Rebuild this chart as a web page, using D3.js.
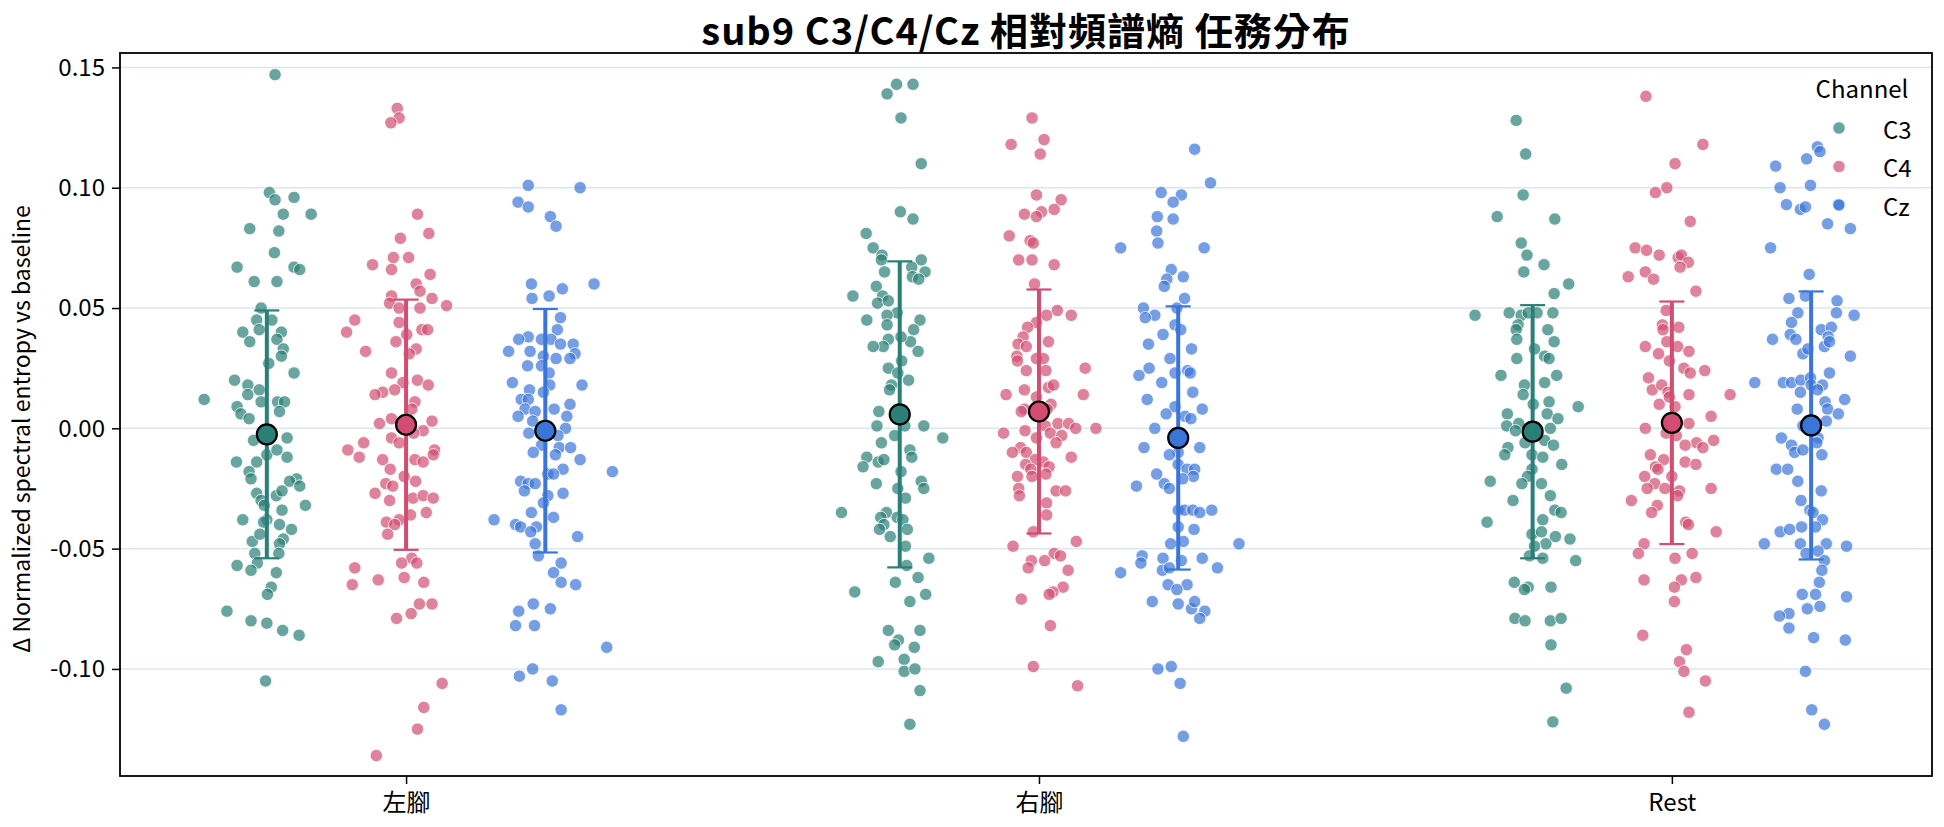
<!DOCTYPE html>
<html>
<head>
<meta charset="utf-8">
<script src="https://cdn.jsdelivr.net/npm/d3@7"></script>
<style>
  body { margin: 0; background: #fff; }
  text { font-family: "Noto Sans CJK TC", "Noto Sans", sans-serif; fill: #000; }
</style>
</head>
<body>
<script>
// Strip plot of per-trial Δ spectral entropy, dodged by channel, with mean ± SD on top.
var categories = ['左腳', '右腳', 'Rest']
var channels = ['C3', 'C4', 'Cz']
var colors = ['#2a7f76', '#d14d72', '#3a75d9']
var yTicks = [-0.10, -0.05, 0.00, 0.05, 0.10, 0.15]

// each point: [value, jitter in 1/1000 category widths]
var leftC3 = [[0.147,13],[0.098,4],[0.095,13],[0.096,43],[0.089,26],[0.089,70],[0.083,-27],[0.082,19],[0.073,12],[0.067,-47],[0.067,43],[0.066,52],[0.061,-20],[0.061,16],[0.050,-9],[0.045,-16],[0.045,8],[0.040,-38],[0.041,-12],[0.040,23],[0.036,-27],[0.037,16],[0.033,26],[0.030,23],[0.027,3],[0.023,43],[0.020,-51],[0.018,-30],[0.016,-12],[0.014,-30],[0.012,-99],[0.011,17],[0.011,28],[0.011,-9],[0.009,-47],[0.006,-41],[0.007,20],[0.004,-28],[-0.005,-21],[-0.004,32],[-0.014,-48],[-0.014,-16],[-0.011,0],[-0.009,16],[-0.012,32],[-0.018,-28],[-0.021,-25],[-0.021,47],[-0.022,36],[-0.024,52],[-0.027,-16],[-0.028,15],[-0.026,24],[-0.030,-9],[-0.032,-4],[-0.034,24],[-0.032,61],[-0.038,-38],[-0.038,0],[-0.039,-5],[-0.040,20],[-0.042,39],[-0.047,-23],[-0.044,-11],[-0.046,26],[-0.048,20],[-0.052,-19],[-0.052,19],[-0.056,-15],[-0.057,-47],[-0.059,-25],[-0.060,15],[-0.066,7],[-0.069,1],[-0.076,-63],[-0.080,-25],[-0.081,0],[-0.084,25],[-0.086,51],[-0.105,-2]]
var leftC4 = [[0.133,-14],[0.129,-11],[0.127,-24],[0.089,18],[0.081,36],[0.079,-9],[0.071,-20],[0.071,4],[0.068,-53],[0.066,-23],[0.064,38],[0.060,16],[0.057,22],[0.054,41],[0.055,-23],[0.052,-26],[0.050,-11],[0.050,22],[0.051,64],[0.045,-81],[0.044,-11],[0.040,-94],[0.039,1],[0.041,25],[0.041,34],[0.036,-16],[0.033,16],[0.031,5],[0.032,-64],[0.023,-23],[0.019,-5],[0.020,18],[0.018,35],[0.015,-37],[0.016,-18],[0.014,-49],[0.011,14],[0.008,9],[0.002,-42],[0.004,-23],[0.003,41],[-0.001,27],[-0.004,-23],[-0.006,-11],[-0.002,12],[-0.006,-67],[-0.009,-92],[-0.009,45],[-0.012,-74],[-0.013,-37],[-0.013,14],[-0.011,43],[-0.014,27],[-0.017,-25],[-0.020,-3],[-0.022,15],[-0.023,-32],[-0.024,-21],[-0.027,-49],[-0.029,11],[-0.028,27],[-0.029,43],[-0.030,-26],[-0.035,32],[-0.036,7],[-0.038,-11],[-0.039,-31],[-0.040,-18],[-0.044,-29],[-0.054,9],[-0.056,-7],[-0.056,17],[-0.058,-81],[-0.065,-85],[-0.063,-44],[-0.062,-3],[-0.064,28],[-0.073,21],[-0.073,41],[-0.077,8],[-0.079,-15],[-0.106,57],[-0.116,28],[-0.125,18],[-0.136,-47]]
var leftCz = [[0.101,-27],[0.100,55],[0.094,-43],[0.092,-27],[0.088,8],[0.084,17],[0.060,-22],[0.060,77],[0.058,27],[0.054,-21],[0.055,6],[0.046,24],[0.041,19],[0.038,-27],[0.037,-42],[0.037,-6],[0.037,9],[0.035,24],[0.032,-58],[0.032,-24],[0.035,44],[0.031,47],[0.030,-3],[0.029,17],[0.029,39],[0.026,-28],[0.026,-6],[0.023,6],[0.019,-52],[0.018,58],[0.016,-25],[0.018,7],[0.015,-3],[0.012,-38],[0.012,-27],[0.010,39],[0.008,-32],[0.008,14],[0.007,-16],[0.005,34],[0.005,-43],[0.003,-20],[0.000,32],[-0.002,-26],[-0.003,20],[-0.007,-6],[-0.008,22],[-0.008,40],[-0.010,-19],[-0.011,16],[-0.013,55],[-0.018,106],[-0.017,28],[-0.019,4],[-0.019,13],[-0.022,-39],[-0.023,-27],[-0.023,-16],[-0.026,-33],[-0.027,28],[-0.028,4],[-0.031,-3],[-0.035,-22],[-0.037,13],[-0.038,-81],[-0.040,-47],[-0.041,-39],[-0.041,-14],[-0.043,-23],[-0.045,51],[-0.048,-16],[-0.053,-11],[-0.056,25],[-0.060,13],[-0.064,25],[-0.065,48],[-0.073,-19],[-0.075,8],[-0.076,-42],[-0.082,-47],[-0.082,-17],[-0.091,97],[-0.100,-20],[-0.103,-41],[-0.105,11],[-0.117,25]]
var rightC3 = [[0.143,-5],[0.143,21],[0.139,-20],[0.129,2],[0.110,34],[0.090,1],[0.087,21],[0.081,-53],[0.075,-42],[0.072,-28],[0.070,-29],[0.070,34],[0.067,19],[0.065,40],[0.063,20],[0.062,30],[0.065,-24],[0.059,-37],[0.055,-74],[0.055,-27],[0.052,-35],[0.053,-18],[0.048,-4],[0.047,-20],[0.045,-52],[0.045,32],[0.043,-20],[0.041,22],[0.036,17],[0.037,-18],[0.034,-26],[0.034,-42],[0.038,2],[0.032,29],[0.028,3],[0.025,-18],[0.023,-3],[0.020,14],[0.018,-13],[0.016,-16],[0.007,-33],[0.001,-36],[0.001,38],[-0.004,68],[-0.003,-8],[0.001,8],[-0.006,-29],[-0.009,16],[-0.012,19],[-0.012,-52],[-0.016,-58],[-0.014,-34],[-0.013,-25],[-0.018,2],[-0.023,-37],[-0.022,34],[-0.025,38],[-0.025,-3],[-0.029,9],[-0.035,-92],[-0.035,-21],[-0.037,-30],[-0.037,-4],[-0.038,5],[-0.040,-25],[-0.042,12],[-0.042,-32],[-0.045,-15],[-0.049,9],[-0.054,46],[-0.057,11],[-0.064,-7],[-0.062,29],[-0.068,-71],[-0.069,41],[-0.072,16],[-0.084,-18],[-0.084,32],[-0.088,-2],[-0.090,-8],[-0.091,23],[-0.097,-34],[-0.096,7],[-0.101,7],[-0.100,24],[-0.109,32],[-0.123,16]]
var rightC4 = [[0.129,-11],[0.120,8],[0.118,-44],[0.114,2],[0.097,-4],[0.095,35],[0.091,24],[0.090,4],[0.089,-23],[0.088,-4],[0.080,-47],[0.078,-14],[0.077,-9],[0.070,-32],[0.070,-11],[0.068,24],[0.060,-7],[0.049,29],[0.047,51],[0.047,12],[0.044,-4],[0.042,-18],[0.036,15],[0.038,-25],[0.035,-33],[0.034,-20],[0.030,-35],[0.028,-34],[0.029,-4],[0.029,7],[0.025,73],[0.024,-20],[0.024,11],[0.016,-23],[0.017,15],[0.018,23],[0.014,-52],[0.014,70],[0.013,-4],[0.010,19],[0.008,-23],[0.007,-28],[0.008,13],[-0.002,-56],[-0.001,-22],[-0.004,-4],[0.002,30],[0.002,47],[0.000,58],[0.000,90],[0.001,10],[-0.002,18],[-0.003,36],[-0.006,27],[-0.008,-29],[-0.010,-42],[-0.010,-20],[-0.012,51],[-0.013,-6],[-0.015,-21],[-0.014,7],[-0.016,16],[-0.017,-13],[-0.020,-34],[-0.020,-11],[-0.019,11],[-0.025,-32],[-0.028,-31],[-0.026,27],[-0.026,42],[-0.031,12],[-0.036,12],[-0.043,-9],[-0.049,-41],[-0.047,59],[-0.052,24],[-0.053,34],[-0.055,-12],[-0.055,9],[-0.058,-17],[-0.059,46],[-0.066,38],[-0.068,22],[-0.069,16],[-0.071,-28],[-0.082,18],[-0.099,-9],[-0.107,61]]
var rightCz = [[0.116,26],[0.102,51],[0.098,-27],[0.097,5],[0.094,-8],[0.088,-33],[0.087,-8],[0.082,-34],[0.075,-91],[0.077,-32],[0.075,41],[0.066,-11],[0.063,8],[0.062,-18],[0.059,-22],[0.054,10],[0.050,-2],[0.050,-55],[0.047,-37],[0.046,-52],[0.043,-5],[0.041,4],[0.039,-24],[0.033,21],[0.035,-47],[0.029,-13],[0.025,-46],[0.022,-62],[0.023,-5],[0.024,15],[0.023,19],[0.019,-26],[0.015,23],[0.012,-49],[0.009,-5],[0.008,38],[0.006,-19],[0.005,11],[0.004,20],[0.000,-37],[-0.008,-54],[-0.008,34],[-0.010,0],[-0.011,-14],[-0.015,0],[-0.017,14],[-0.017,26],[-0.019,-34],[-0.020,24],[-0.021,7],[-0.023,-22],[-0.025,-14],[-0.024,-66],[-0.034,0],[-0.034,10],[-0.034,23],[-0.035,34],[-0.034,53],[-0.041,0],[-0.042,25],[-0.047,8],[-0.048,-12],[-0.048,96],[-0.053,-57],[-0.056,-59],[-0.054,-24],[-0.054,38],[-0.055,5],[-0.058,62],[-0.060,-91],[-0.059,-25],[-0.058,-14],[-0.065,-16],[-0.065,14],[-0.067,-2],[-0.072,-41],[-0.073,0],[-0.075,21],[-0.072,26],[-0.076,42],[-0.079,34],[-0.100,-32],[-0.099,-11],[-0.106,3],[-0.128,8]]
var restC3 = [[0.128,-26],[0.114,-11],[0.097,-15],[0.088,-56],[0.087,35],[0.077,-18],[0.072,-9],[0.068,18],[0.065,-14],[0.060,57],[0.056,34],[0.047,-91],[0.048,-37],[0.047,-18],[0.048,-7],[0.048,7],[0.048,32],[0.043,-23],[0.041,-26],[0.041,24],[0.037,-25],[0.036,34],[0.033,3],[0.029,-25],[0.030,19],[0.029,26],[0.022,-50],[0.022,38],[0.019,19],[0.018,-13],[0.014,-15],[0.010,1],[0.011,26],[0.009,72],[0.006,-40],[0.006,23],[0.004,40],[0.001,-41],[0.002,-22],[-0.001,-27],[0.000,28],[-0.006,-12],[-0.005,19],[-0.007,33],[-0.008,-39],[-0.011,-44],[-0.011,-1],[-0.012,16],[-0.015,46],[-0.017,-1],[-0.020,-8],[-0.022,-67],[-0.023,-17],[-0.023,14],[-0.030,-31],[-0.028,28],[-0.034,35],[-0.035,45],[-0.039,-72],[-0.038,16],[-0.044,-1],[-0.043,14],[-0.045,36],[-0.046,59],[-0.048,21],[-0.049,3],[-0.053,-5],[-0.054,16],[-0.055,68],[-0.064,-29],[-0.066,-7],[-0.067,-13],[-0.066,29],[-0.079,-28],[-0.080,-12],[-0.080,28],[-0.079,45],[-0.090,29],[-0.108,53],[-0.122,32]]
var restC4 = [[0.138,-41],[0.118,49],[0.110,5],[0.100,-8],[0.098,-26],[0.086,29],[0.075,-58],[0.074,-40],[0.072,-20],[0.071,10],[0.072,15],[0.069,26],[0.067,13],[0.065,-42],[0.063,-69],[0.062,-29],[0.057,38],[0.049,-9],[0.043,-15],[0.042,11],[0.041,-14],[0.034,-42],[0.036,-8],[0.034,9],[0.031,-21],[0.032,27],[0.028,-4],[0.025,19],[0.023,29],[0.024,52],[0.021,-37],[0.016,-31],[0.018,-16],[0.014,27],[0.015,-6],[0.014,92],[0.013,-4],[0.010,-20],[0.009,5],[0.005,62],[0.000,-42],[0.002,27],[-0.002,-9],[-0.003,7],[-0.005,66],[-0.006,39],[-0.008,49],[-0.007,21],[-0.011,-34],[-0.013,-13],[-0.014,21],[-0.015,38],[-0.016,-26],[-0.017,-22],[-0.020,0],[-0.020,-43],[-0.023,-27],[-0.025,-39],[-0.025,-11],[-0.026,12],[-0.028,9],[-0.025,62],[-0.030,-64],[-0.032,-23],[-0.035,-32],[-0.039,22],[-0.040,26],[-0.043,70],[-0.048,-44],[-0.052,-53],[-0.054,5],[-0.052,32],[-0.063,-44],[-0.063,15],[-0.062,38],[-0.066,4],[-0.072,4],[-0.086,-46],[-0.092,23],[-0.097,12],[-0.101,19],[-0.105,53],[-0.118,27]]
var restCz = [[0.117,10],[0.115,14],[0.112,-7],[0.109,-56],[0.101,-1],[0.100,-49],[0.093,-39],[0.091,-17],[0.092,-9],[0.093,43],[0.085,26],[0.083,62],[0.075,-64],[0.064,-3],[0.054,-35],[0.055,-9],[0.053,41],[0.048,-21],[0.048,40],[0.047,68],[0.044,-31],[0.041,16],[0.042,32],[0.039,-33],[0.037,-24],[0.038,27],[0.037,-61],[0.034,21],[0.036,29],[0.031,-13],[0.030,62],[0.033,-5],[0.023,29],[0.019,-89],[0.019,-44],[0.019,-31],[0.020,-16],[0.021,-1],[0.018,0],[0.018,18],[0.015,-17],[0.016,10],[0.012,53],[0.011,22],[0.008,-22],[0.008,26],[0.006,43],[0.003,24],[0.001,-13],[-0.004,-47],[-0.004,11],[-0.007,-31],[-0.006,9],[-0.010,-26],[-0.009,-13],[-0.011,17],[-0.017,-55],[-0.017,-37],[-0.022,-21],[-0.026,16],[-0.030,-16],[-0.034,-2],[-0.035,3],[-0.038,18],[-0.043,-49],[-0.042,-34],[-0.041,-15],[-0.041,7],[-0.048,-74],[-0.048,-17],[-0.048,24],[-0.049,56],[-0.052,-8],[-0.051,11],[-0.055,21],[-0.059,17],[-0.064,13],[-0.069,-14],[-0.069,7],[-0.070,56],[-0.074,14],[-0.075,-6],[-0.077,-35],[-0.078,-50],[-0.083,-35],[-0.087,4],[-0.088,54],[-0.101,-9],[-0.117,1],[-0.123,21]]

// per category, per channel: mean and SD of the trials
var means = [[-0.0025, 0.0015, -0.0010], [0.0058, 0.0070, -0.0040], [-0.0014, 0.0023, 0.0012]]
var sds   = [[0.0515, 0.0520, 0.0506], [0.0636, 0.0507, 0.0547], [0.0526, 0.0504, 0.0557]]

var groups = [[leftC3, leftC4, leftCz], [rightC3, rightC4, rightCz], [restC3, restC4, restCz]]

var W = 1944, H = 827
var margin = {top: 53, right: 12, bottom: 51, left: 120}
var dodge = [-0.22, 0, 0.22]
var FONT = '"Noto Sans CJK TC", sans-serif'

var svg = d3.select('body').append('svg').attr('width', W).attr('height', H)

var x = d3.scaleLinear().domain([-0.452, 2.411]).range([margin.left, W - margin.right])
var y = d3.scaleLinear().domain([-0.1445, 0.156]).range([H - margin.bottom, margin.top])

// gridlines (horizontal only)
svg.append('g').selectAll('line').data(yTicks).join('line')
  .attr('x1', margin.left).attr('x2', W - margin.right)
  .attr('y1', y).attr('y2', y)
  .attr('stroke', '#dce6ee').attr('stroke-width', 1.5)

// strip points
groups.forEach(function(chs, ci){
  chs.forEach(function(pts, k){
    svg.append('g').selectAll('circle').data(pts).join('circle')
      .attr('cx', function(d){ return x(ci + dodge[k] + d[1] / 1000) })
      .attr('cy', function(d){ return y(d[0]) })
      .attr('r', 6.2)
      .attr('fill', colors[k]).attr('fill-opacity', 0.7)
      .attr('stroke', '#fff').attr('stroke-width', 0.8)
  })
})

// mean ± SD
groups.forEach(function(chs, ci){
  chs.forEach(function(pts, k){
    var cx = x(ci + dodge[k]), m = means[ci][k], s = sds[ci][k]
    var g = svg.append('g')
    g.append('line').attr('x1', cx).attr('x2', cx).attr('y1', y(m - s)).attr('y2', y(m + s))
      .attr('stroke', colors[k]).attr('stroke-width', 4)
    ;[m - s, m + s].forEach(function(v){
      g.append('line').attr('x1', cx - 12.5).attr('x2', cx + 12.5).attr('y1', y(v)).attr('y2', y(v))
        .attr('stroke', colors[k]).attr('stroke-width', 2.2)
    })
    g.append('circle').attr('cx', cx).attr('cy', y(m)).attr('r', 10)
      .attr('fill', colors[k]).attr('stroke', '#000').attr('stroke-width', 2.2)
  })
})

// axes
var yAxis = svg.append('g').attr('transform', 'translate(' + margin.left + ',0)')
  .call(d3.axisLeft(y).tickValues(yTicks).tickSize(8).tickPadding(7)
    .tickFormat(function(d){ return d.toFixed(2) }))
var xAxis = svg.append('g').attr('transform', 'translate(0,' + (H - margin.bottom) + ')')
  .call(d3.axisBottom(x).tickValues([0, 1, 2]).tickSize(8).tickPadding(10)
    .tickFormat(function(d){ return categories[d] }))
svg.selectAll('.domain').remove()
svg.selectAll('.tick line').attr('stroke', '#000').attr('stroke-width', 1.5)
yAxis.selectAll('text').attr('font-size', 24).attr('font-family', FONT)
xAxis.selectAll('text').attr('font-size', 24).attr('font-family', FONT)

svg.append('rect')
  .attr('x', margin.left).attr('y', margin.top)
  .attr('width', W - margin.left - margin.right).attr('height', H - margin.top - margin.bottom)
  .attr('fill', 'none').attr('stroke', '#000').attr('stroke-width', 1.8)

// labels
svg.append('text').text('sub9 C3/C4/Cz 相對頻譜熵 任務分布')
  .attr('x', (margin.left + W - margin.right) / 2).attr('y', 45)
  .attr('text-anchor', 'middle').attr('font-size', 38).attr('font-weight', 700)
  .attr('letter-spacing', 1)
svg.append('text').text('Δ Normalized spectral entropy vs baseline')
  .attr('transform', 'translate(20,429) rotate(-90)')
  .attr('text-anchor', 'middle').attr('dominant-baseline', 'central').attr('font-size', 23)

// legend
var leg = svg.append('g')
leg.append('text').text('Channel').attr('x', 1862).attr('y', 87)
  .attr('text-anchor', 'middle').attr('dominant-baseline', 'central').attr('font-size', 24)
channels.forEach(function(c, i){
  var ly = 128 + i * 38.5
  leg.append('circle').attr('cx', 1839).attr('cy', ly).attr('r', 6.2)
    .attr('fill', colors[i]).attr('fill-opacity', 0.7).attr('stroke', '#fff').attr('stroke-width', 0.8)
  leg.append('text').text(c).attr('x', 1883).attr('y', ly)
    .attr('dominant-baseline', 'central').attr('font-size', 24)
})
</script>
</body>
</html>
